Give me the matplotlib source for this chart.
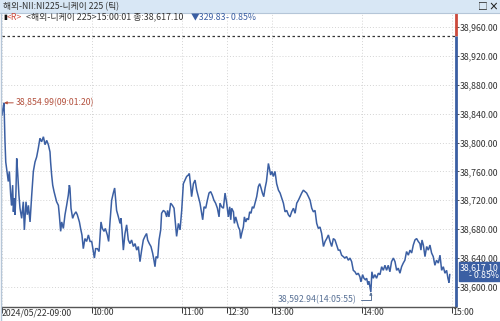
import matplotlib
matplotlib.use('Agg')
import matplotlib.pyplot as plt
from matplotlib.patches import Rectangle
from matplotlib.lines import Line2D

plt.rcParams['font.family'] = ['Noto Sans CJK KR', 'DejaVu Sans']

# ---------------- data ----------------
title = "해외-NII:NI225-니케이 225 (틱)"
info_name = "<해외-니케이 225>15:00:01 종:38,617.10"
# session minutes (09:00 = 0, lunch 11:30-12:30 removed, 15:00 = 300)
minutes = [0, 0.7, 1.33, 2.0, 2.5, 4.2, 4.9, 5.8, 6.4, 7.1, 7.6, 8.2, 8.7, 9.3, 9.8,
           10.4, 11.3, 12.0, 13.1, 14.2, 14.9, 16.0, 16.9, 17.6, 18.7, 19.8, 20.9,
           22.0, 23.1, 24.2, 25.3, 26.4, 27.6, 28.7, 29.8, 30.9, 32.0, 32.4, 33.1,
           33.8, 34.7, 35.3, 36.4, 37.6, 38.2, 39.1, 39.8, 40.9, 42.0, 43.1, 44.2,
           44.9, 45.3, 46.0, 47.1, 48.0, 49.3, 50.2, 51.6, 52.4, 53.3, 54.2, 55.3,
           56.4, 57.6, 58.7, 59.8, 60.9, 61.6, 62.4, 63.6, 64.7, 65.3, 66.0, 66.9,
           68.0, 68.9, 70.2, 71.1, 72.0, 73.1, 74.2, 75.1, 75.8, 76.4, 77.6, 78.7,
           79.3, 80.0, 80.9, 82.0, 83.1, 84.2, 85.3, 86.4, 87.6, 88.7, 89.8, 90.9,
           92.0, 93.1, 94.2, 95.3, 96.4, 97.1, 98.2, 99.3, 100.4, 101.3, 102.0,
           102.7, 103.8, 104.7, 105.8, 106.4, 107.6, 108.7, 109.8, 110.4, 111.3,
           112.4, 113.6, 114.7, 115.6, 116.4, 117.6, 118.7, 119.8, 120.9, 122.0,
           123.1, 124.2, 124.9, 125.8, 126.4, 127.6, 128.7, 129.8, 130.9, 132.0,
           133.1, 133.8, 134.7, 135.8, 136.9, 138.0, 139.1, 140.2, 141.3, 142.4,
           143.6, 144.7, 145.3, 146.4, 147.6, 148.7, 149.8, 150.9, 151.8, 152.5,
           153.1, 154.3, 154.9, 155.8, 156.7, 157.6, 158.5, 159.1, 159.8, 160.9,
           161.6, 162.5, 163.4, 164.3, 165.1, 166.0, 166.9, 167.8, 168.7, 169.8,
           170.9, 171.8, 172.7, 173.6, 174.5, 175.4, 176.3, 176.9, 177.6, 178.3,
           179.1, 180.0, 180.9, 182.0, 183.1, 184.3, 185.4, 186.5, 187.6, 188.7,
           189.8, 190.9, 192.0, 193.1, 194.3, 195.4, 196.5, 197.6, 198.7, 199.8,
           200.9, 202.0, 203.1, 204.3, 205.4, 206.5, 207.6, 208.7, 209.8, 210.9,
           212.0, 213.1, 214.3, 215.4, 216.5, 217.6, 218.7, 219.8, 220.9, 222.0,
           223.1, 224.2, 225.3, 226.4, 227.5, 228.6, 229.7, 230.9, 232.0, 233.1,
           234.2, 235.3, 236.4, 237.5, 238.6, 239.3, 240.4, 241.3, 242.2, 243.1,
           244.0, 244.6, 245.9, 246.6, 247.5, 248.6, 249.7, 250.9, 252.0, 253.1,
           254.2, 255.3, 256.4, 257.5, 258.6, 259.7, 260.9, 262.0, 263.1, 264.2,
           265.3, 266.4, 267.5, 268.6, 269.7, 270.9, 272.0, 273.1, 274.2, 275.3,
           276.4, 277.5, 278.6, 279.3, 280.0, 280.9, 282.0, 283.1, 284.2, 285.3,
           286.4, 287.5, 288.6, 289.7, 290.9, 292.0, 293.1, 294.2, 295.3, 296.4,
           297.3, 298.0, 298.5]
prices = [38838, 38848, 38854.99, 38801, 38773, 38746, 38760, 38727, 38713, 38741,
          38704, 38723, 38700, 38732, 38778, 38760, 38727, 38709, 38695, 38718,
          38679, 38718, 38700, 38713, 38690, 38727, 38760, 38773, 38780, 38792,
          38806, 38801, 38808, 38797, 38803, 38797, 38787, 38773, 38755, 38741,
          38732, 38727, 38718, 38713, 38700, 38677, 38690, 38681, 38700, 38713,
          38727, 38741, 38737, 38709, 38695, 38700, 38704, 38700, 38690, 38681,
          38672, 38653, 38667, 38663, 38672, 38663, 38663, 38649, 38640, 38653,
          38653, 38649, 38667, 38690, 38681, 38677, 38681, 38672, 38663, 38690,
          38720, 38730, 38737, 38720, 38706, 38697, 38688, 38695, 38679, 38651,
          38674, 38686, 38665, 38660, 38665, 38656, 38660, 38651, 38656, 38635,
          38651, 38665, 38670, 38674, 38665, 38660, 38656, 38647, 38637, 38628,
          38642, 38640, 38665, 38679, 38702, 38706, 38704, 38697, 38706, 38697,
          38716, 38713, 38709, 38688, 38670, 38688, 38679, 38706, 38743, 38748,
          38753, 38755, 38757, 38739, 38725, 38743, 38748, 38734, 38725, 38716,
          38702, 38693, 38711, 38709, 38720, 38730, 38732, 38727, 38720, 38716,
          38709, 38697, 38716, 38711, 38709, 38730, 38716, 38697, 38711, 38693,
          38709, 38704, 38688, 38697, 38690, 38683, 38679, 38667, 38674, 38683,
          38697, 38690, 38695, 38693, 38704, 38702, 38711, 38709, 38716, 38725,
          38739, 38743, 38737, 38730, 38725, 38737, 38746, 38757, 38771, 38764,
          38755, 38760, 38753, 38760, 38743, 38734, 38730, 38723, 38716, 38704,
          38706, 38700, 38697, 38704, 38709, 38702, 38716, 38720, 38725, 38730,
          38734, 38732, 38730, 38725, 38720, 38709, 38704, 38706, 38688, 38681,
          38683, 38674, 38656, 38663, 38667, 38672, 38663, 38656, 38667, 38665,
          38658, 38651, 38651, 38644, 38642, 38640, 38642, 38637, 38640, 38635,
          38623, 38621, 38617, 38619, 38614, 38607, 38617, 38612, 38610, 38612,
          38603, 38608, 38592.94, 38621, 38612, 38617, 38612, 38619, 38617, 38628,
          38623, 38630, 38623, 38630, 38621, 38635, 38640, 38635, 38623, 38626,
          38619, 38628, 38633, 38637, 38649, 38644, 38651, 38647, 38658, 38665,
          38667, 38663, 38660, 38651, 38665, 38658, 38642, 38656, 38651, 38658,
          38647, 38642, 38630, 38637, 38633, 38644, 38623, 38628, 38619, 38623,
          38612, 38606, 38617.10]
prev_close = 38946.93
last_price = 38617.10
change = 329.83
change_pct = -0.85
high_min, high_val, high_time = 1.33, 38854.99, "09:01:20"
low_min, low_val, low_time = 245.9, 38592.94, "14:05:55"
yticks = [38600, 38640, 38680, 38720, 38760, 38800, 38840, 38880, 38920, 38960]
xtick_pos = [0, 60, 120, 150, 180, 240, 300]
xtick_labels = ["2024/05/22-09:00", "10:00", "11:00", "12:30", "13:00", "14:00", "15:00"]

# ---------------- layout ----------------
W, H = 500, 321
BLUE = '#3b5fa3'
RED = '#cc4a3c'
TXT = '#333333'

def fx(x):
    return x / W

def fy(y):
    return 1 - y / H

fig = plt.figure(figsize=(W / 100, H / 100), dpi=100)
fig.patch.set_facecolor('white')

L, R, T, B = 2, 456, 13, 307
ax = fig.add_axes([fx(L), fy(B), (R - L) / W, (B - T) / H])
xmax = 302.67
ylo, yhi = 38572.2, 38979.4
ax.set_xlim(0, xmax)
ax.set_ylim(ylo, yhi)
ax.set_facecolor('white')

for s in ['top', 'left', 'right']:
    ax.spines[s].set_visible(False)
ax.spines['bottom'].set_color('#555555')
ax.spines['bottom'].set_linewidth(1.0)

# grid
ax.set_yticks(yticks)
ax.set_xticks(xtick_pos)
ax.grid(True, color='#d4d4d4', linestyle=(0, (1, 2)), linewidth=0.7)

# y ticks on right
ax.yaxis.tick_right()
ax.set_yticklabels([f"{v:,.2f}" for v in yticks])
ax.tick_params(axis='y', direction='out', length=2, pad=1, labelsize=6.3,
               colors=TXT, width=0.6)
ax.set_xticklabels(xtick_labels)
ax.tick_params(axis='x', direction='out', length=4, pad=-3, labelsize=6.3,
               colors=TXT, width=0.7)
for lab in ax.get_xticklabels():
    lab.set_ha('left')

# previous close
ax.axhline(prev_close, color='#333333', lw=0.9, ls=(0, (2, 2)))

# price line
ax.plot(minutes, prices, color=BLUE, lw=1.1, solid_joinstyle='miter')

# right axis coloured spine
ax.plot([xmax, xmax], [prev_close, yhi], color=RED, lw=2, clip_on=False,
        solid_capstyle='butt')
ax.plot([xmax, xmax], [ylo, prev_close], color=BLUE, lw=2, clip_on=False,
        solid_capstyle='butt')

# current price box
ax.annotate(f"{last_price:,.2f}\n- {abs(change_pct):.2f}%",
            xy=(1.0, last_price), xycoords=('axes fraction', 'data'),
            xytext=(4, 3), textcoords='offset pixels',
            ha='left', va='center', fontsize=6.3, color='white', linespacing=0.85,
            multialignment='right',
            bbox=dict(boxstyle='square,pad=0.15', facecolor=BLUE, edgecolor=BLUE),
            annotation_clip=False)

# high annotation
ax.annotate(f"{high_val:,.2f}({high_time})", xy=(high_min, high_val),
            xytext=(12, 0), textcoords='offset pixels', ha='left', va='center',
            fontsize=6.3, color='#b4523f',
            arrowprops=dict(arrowstyle='-|>,head_length=0.25,head_width=0.12',
                            color='#b4523f', lw=0.7, shrinkA=0, shrinkB=0))

# low annotation
ax.annotate(f"{low_val:,.2f}({low_time})", xy=(low_min, low_val),
            xytext=(-14, -8), textcoords='offset pixels', ha='right', va='center',
            fontsize=6.3, color='#5b7397',
            arrowprops=dict(arrowstyle='-|>,head_length=0.25,head_width=0.12',
                            color='#5b7397', lw=0.7, shrinkA=1, shrinkB=0,
                            connectionstyle='angle,angleA=0,angleB=90,rad=0'))

# ---------------- title bar / info line ----------------
fig.patches.append(Rectangle((0, fy(13)), 1, 13 / H, transform=fig.transFigure,
                             facecolor='#d8e7f5', edgecolor='none', zorder=0))
fig.add_artist(Line2D([0, 1], [fy(13), fy(13)], color='#b5c6d8', lw=0.8))
fig.add_artist(Line2D([fx(0.5), fx(0.5)], [0, fy(13)], color='#b5c6d8', lw=1))

fig.text(fx(3), fy(6.5), title, fontsize=6.3, color=TXT, va='center', ha='left')
fig.text(fx(478), fy(6.5), "□", fontsize=7, color='#222222', va='center', ha='left')
fig.text(fx(488), fy(6.5), "×", fontsize=7, color='#222222', va='center', ha='left',
         fontweight='bold')

iy = fy(17)
fig.text(fx(3), iy, "▮", fontsize=5, color='#111111', va='center', ha='left')
fig.text(fx(7), iy, "<R>", fontsize=6.3, color=RED, va='center', ha='left')
fig.text(fx(26), iy, info_name, fontsize=6.4, color=TXT, va='center', ha='left')
fig.text(fx(191), iy, f"▼{change:.2f}", fontsize=6.3, color=BLUE, va='center', ha='left')
fig.text(fx(226), iy, f"- {abs(change_pct):.2f}%", fontsize=6.3, color=BLUE,
         va='center', ha='left')

fig.savefig('out.png', dpi=100)
